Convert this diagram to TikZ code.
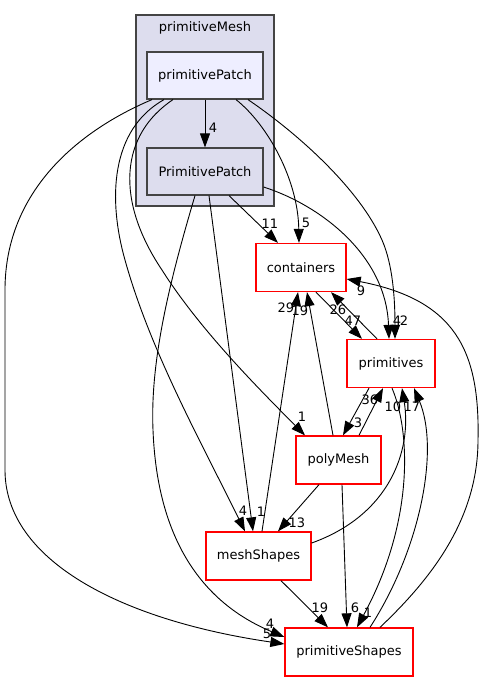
\documentclass[tikz,border=0pt]{standalone}
\usepackage{fontspec}
\setmainfont{DejaVu Sans}
\usetikzlibrary{arrows.meta}
\definecolor{dirfill}{HTML}{DDDDEE}
\definecolor{topfill}{HTML}{EEEEFF}
\definecolor{dirline}{HTML}{444444}

\begin{document}
\begin{tikzpicture}[
        x=1pt, y=-1pt,
        >={Triangle[length=14pt,width=10pt]}, % filled triangle heads
        font=\fontsize{13}{15}\selectfont,
        clusterbox/.style={rectangle, draw=dirline, fill=dirfill, line width=1.2pt, inner sep=0pt},
        subdir/.style={rectangle, draw=dirline, fill=dirfill, line width=1.2pt, minimum width=116pt, minimum height=47pt, inner sep=0pt},
        extdir/.style={rectangle, draw=red, line width=1.3pt, minimum height=48pt, inner sep=0pt},
        connect/.style={draw, ->, black, line width=0.9pt},
        count/.style={inner sep=0pt}
    ]
    \useasboundingbox (0,0) rectangle (485,681);

    % ==========================================
    % 1. primitiveMesh cluster (top)
    % ==========================================
    \node[clusterbox, minimum width=138pt, minimum height=191pt] (mesh) at (205,110.5) {};
    \node (meshlabel) at (205,28) {primitiveMesh};
    \node[subdir, fill=topfill] (pPatch) at (205,75.5) {primitivePatch};
    \node[subdir] (PPatch) at (205,171.5) {PrimitivePatch};

    % ==========================================
    % 2. other directories
    % ==========================================
    \node[extdir, minimum width=90pt] (containers) at (301,267.5) {containers};
    \node[extdir, minimum width=88pt] (primitives) at (391,363.5) {primitives};
    \node[extdir, minimum width=85pt] (polyMesh) at (338.5,460) {polyMesh};
    \node[extdir, minimum width=105pt] (meshShapes) at (258.5,556) {meshShapes};
    \node[extdir, minimum width=128pt] (primShapes) at (349,652) {primitiveShapes};

    % ==========================================
    % 3. edges out of primitivePatch
    % ==========================================
    \path[connect] (pPatch.south) -- (PPatch.north) node[count] at (213,128) {4};
    \path[connect] ([xshift=31pt]pPatch.south) .. controls (268,125) and (298,180) .. ([xshift=-2pt]containers.north)
        node[count] at (306,223) {5};
    \path[connect] ([xshift=43pt]pPatch.south) .. controls (300,135) and (360,190) .. (382,240)
        .. controls (393,265) and (395,300) .. ([xshift=4pt]primitives.north)
        node[count] at (404,321) {2};
    \path[connect] ([xshift=-32pt]pPatch.south) .. controls (120,135) and (115,200) .. (162,270)
        .. controls (200,330) and (260,390) .. ([xshift=-33.5pt]polyMesh.north)
        node[count] at (302,417) {1};
    \path[connect] ([xshift=-41pt]pPatch.south) .. controls (110,130) and (108,200) .. (125,260)
        .. controls (150,350) and (200,440) .. ([xshift=-13.5pt]meshShapes.north)
        node[count] at (243,511) {4};
    \path[connect] ([xshift=-53pt]pPatch.south) .. controls (80,130) and (5,190) .. (5,290) -- (5,470)
        .. controls (5,560) and (120,620) .. ([yshift=8pt]primShapes.west)
        node[count] at (267,634) {5};

    % ==========================================
    % 4. edges out of PrimitivePatch
    % ==========================================
    \path[connect] ([xshift=24pt]PPatch.south) -- ([xshift=-23pt]containers.north) node[count] at (270,224) {11};
    \path[connect] ([yshift=-15.5pt]PPatch.east) .. controls (320,205) and (386,255) .. ([xshift=-2pt]primitives.north)
        node[count] at (397,321) {4};
    \path[connect] ([xshift=4pt]PPatch.south) -- ([xshift=-5.5pt]meshShapes.north) node[count] at (261,512) {1};
    \path[connect] ([xshift=-10pt]PPatch.south) .. controls (170,280) and (150,360) .. (153,430)
        .. controls (158,560) and (220,610) .. ([yshift=15pt]primShapes.west)
        node[count] at (270,624) {4};

    % ==========================================
    % 5. edges between the other directories
    % ==========================================
    \path[connect] ([xshift=15pt]containers.south) -- ([xshift=-29pt]primitives.north) node[count] at (353,321) {47};
    \path[connect] ([xshift=-14pt]primitives.north) -- ([xshift=30pt]containers.south) node[count] at (338,310) {26};
    \path[connect] ([xshift=-22pt]primitives.south) -- ([xshift=4.5pt]polyMesh.north) node[count] at (358,423) {3};
    \path[connect] ([xshift=1pt]primitives.south) .. controls (410,430) and (415,520) .. ([xshift=8pt]primShapes.north)
        node[count] at (368,613) {1};
    \path[connect] ([xshift=20.5pt]polyMesh.north) -- ([xshift=-8pt]primitives.south) node[count] at (370,400) {36};
    \path[connect] ([xshift=-5.5pt]polyMesh.north) -- ([xshift=6pt]containers.south) node[count] at (300,311) {19};
    \path[connect] ([xshift=-19.5pt]polyMesh.south) -- ([xshift=19.5pt]meshShapes.north) node[count] at (297,523) {13};
    \path[connect] ([xshift=3.5pt]polyMesh.south) -- ([xshift=-2pt]primShapes.north) node[count] at (355,608) {6};
    \path[connect] ([xshift=3.5pt]meshShapes.north) -- ([xshift=-3pt]containers.south) node[count] at (286,308) {29};
    \path[connect] ([yshift=13pt]meshShapes.east) .. controls (390,515) and (412,450) .. ([xshift=11pt]primitives.south)
        node[count] at (393,407) {10};
    \path[connect] ([xshift=22.5pt]meshShapes.south) -- ([xshift=-21pt]primShapes.north) node[count] at (320,608) {19};
    \path[connect] ([xshift=21pt]primShapes.north) .. controls (420,550) and (440,450) .. ([xshift=23pt]primitives.south)
        node[count] at (412,407) {17};
    \path[connect] ([xshift=31pt]primShapes.north) .. controls (430,580) and (478,520) .. (478,440)
        .. controls (480,350) and (455,300) .. ([yshift=-11.5pt]containers.east)
        node[count] at (361,291) {9};

\end{tikzpicture}
\end{document}
